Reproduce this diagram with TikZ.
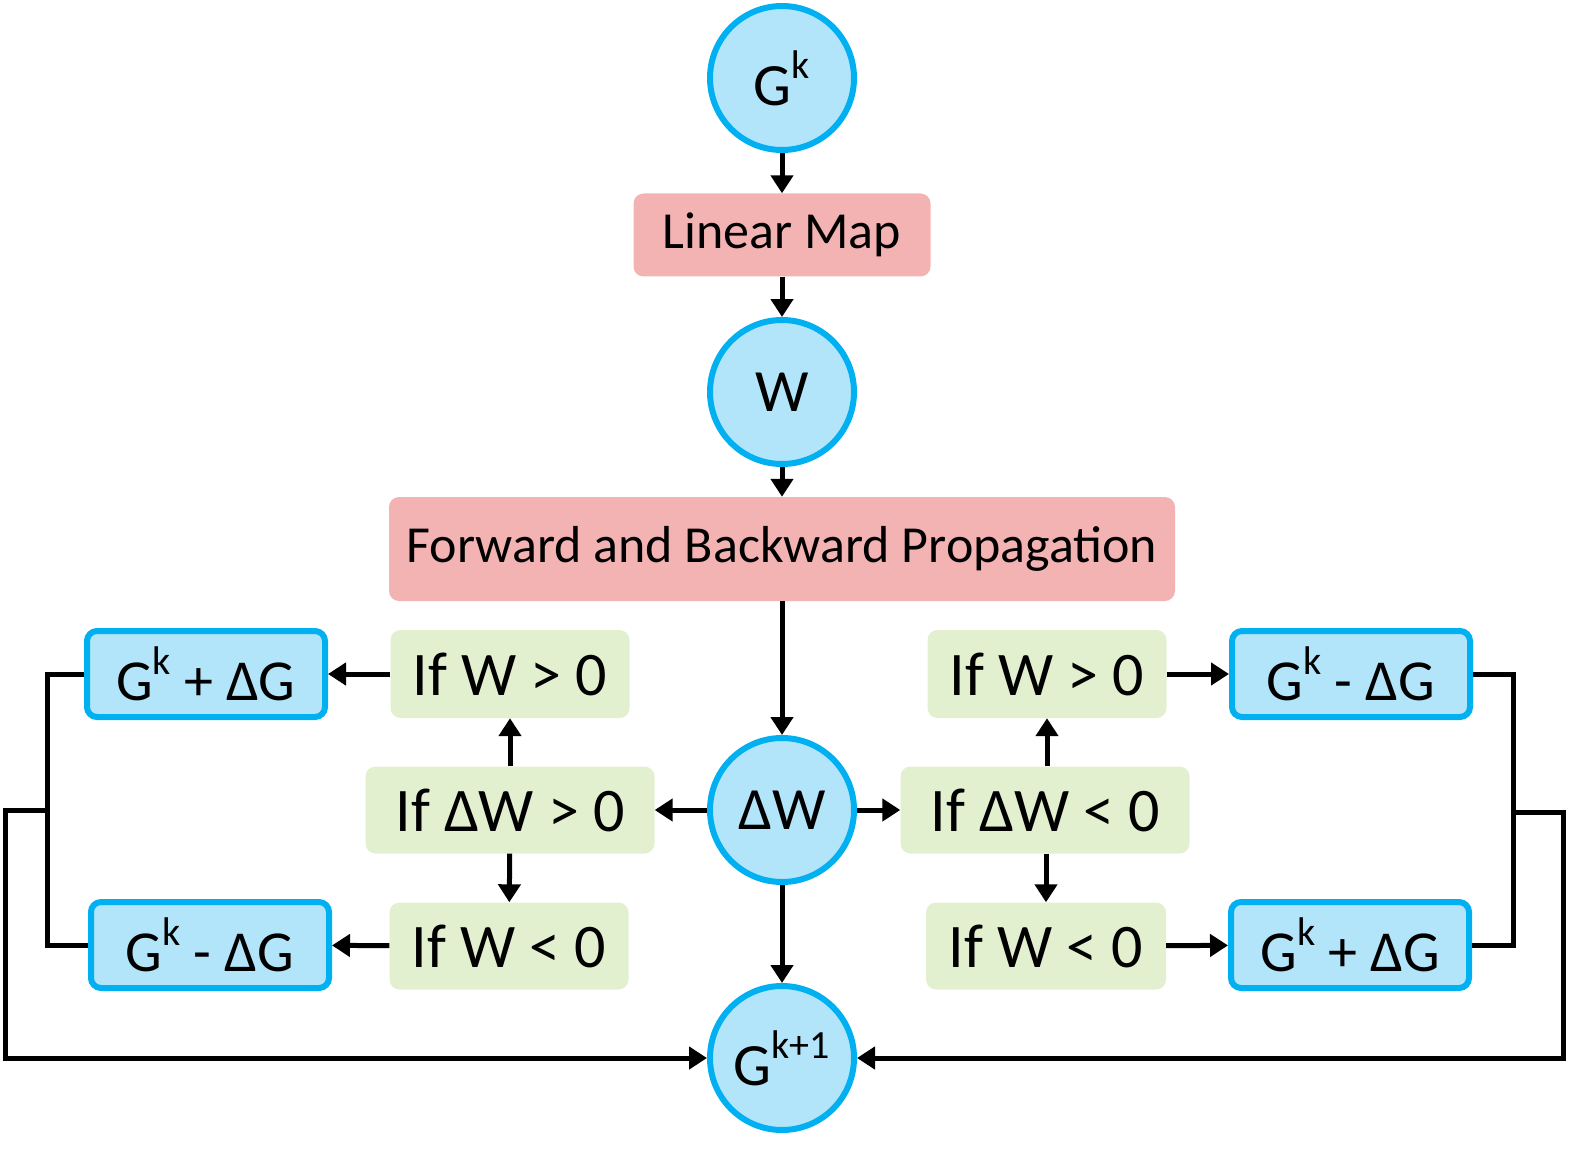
\documentclass[tikz,border=0pt]{standalone}
\usepackage{fontspec}
\setmainfont{Carlito}
\usetikzlibrary{arrows.meta}
\definecolor{cb}{HTML}{B3E5FA}
\definecolor{cbd}{HTML}{00B0F0}
\definecolor{pk}{HTML}{F4B3B3}
\definecolor{gr}{HTML}{E2F0D0}
\newcommand{\sk}[1]{\raisebox{0.45em}{\fontsize{40}{44}\selectfont #1}}
\begin{document}
\begin{tikzpicture}[x=1pt,y=-1pt,
  circ/.style={circle,draw=cbd,fill=cb,line width=6pt,minimum size=144pt,inner sep=0pt,font=\fontsize{60}{64}\selectfont},
  pink/.style={rectangle,rounded corners=10pt,fill=pk,inner sep=0pt,font=\fontsize{52}{56}\selectfont},
  green/.style={rectangle,rounded corners=10pt,fill=gr,inner sep=0pt,font=\fontsize{62}{66}\selectfont},
  bbox/.style={rectangle,rounded corners=10pt,draw=cbd,fill=cb,line width=6pt,inner sep=0pt,minimum width=238pt,minimum height=86pt,font=\fontsize{58}{62}\selectfont},
  arr/.style={line width=5pt,-{Triangle[length=18pt,width=22pt]}},
  ln/.style={line width=5pt}]
\useasboundingbox (0,0) rectangle (1587,1158);
\node[circ] (gk) at (782,78) {G\sk{k}};
\node[pink,minimum width=297pt,minimum height=83pt] (lm) at (782,235) {Linear Map};
\node[circ] (w) at (782,392) {W};
\node[pink,minimum width=786pt,minimum height=104pt] (fb) at (782,549) {Forward and Backward Propagation};
\node[circ] (dw) at (782,810) {ΔW};
\node[circ] (gk1) at (782,1058) {G\sk{k+1}};
% left
\node[bbox] (lgp) at (206,674) {G\sk{k} + ΔG};
\node[green,minimum width=239pt,minimum height=88pt] (lw0) at (510,674) {If W > 0};
\node[green,minimum width=289pt,minimum height=87pt] (ldw) at (510,810) {If ΔW > 0};
\node[green,minimum width=239pt,minimum height=87pt] (lw1) at (509,946) {If W < 0};
\node[bbox] (lgm) at (210,945) {G\sk{k} - ΔG};
% right
\node[green,minimum width=239pt,minimum height=88pt] (rw0) at (1047,674) {If W > 0};
\node[bbox] (rgm) at (1351,674) {G\sk{k} - ΔG};
\node[green,minimum width=289pt,minimum height=87pt] (rdw) at (1045,810) {If ΔW < 0};
\node[green,minimum width=240pt,minimum height=87pt] (rw1) at (1046,946) {If W < 0};
\node[bbox] (rgp) at (1350,945) {G\sk{k} + ΔG};
% vertical chain
\draw[arr] (gk) -- (lm);
\draw[arr] (lm) -- (w);
\draw[arr] (w) -- (fb);
\draw[arr] (fb) -- (dw);
\draw[arr] (dw) -- (gk1);
\draw[arr] (dw) -- (ldw);
\draw[arr] (dw) -- (rdw);
\draw[arr] (ldw) -- (lw0);
\draw[arr] (ldw) -- (lw1);
\draw[arr] (rdw.north -| rw0) -- (rw0);
\draw[arr] (rdw.south -| rw1) -- (rw1);
\draw[arr] (lw0) -- (lgp);
\draw[arr] (lw1) -- (lgm);
\draw[arr] (rw0) -- (rgm);
\draw[arr] (rw1) -- (rgp);
% brackets
\coordinate (lm1) at (47,810);
\coordinate (rm1) at (1513,812);
\draw[ln] (lgp.west) -| (lm1) |- (lgm.west);
\draw[ln] (rgm.east) -| (rm1) |- (rgp.east);
\draw[arr] (lm1) -- (5,810) |- (gk1.west);
\draw[arr] (rm1) -- (1563,812) |- (gk1.east);
\end{tikzpicture}
\end{document}
